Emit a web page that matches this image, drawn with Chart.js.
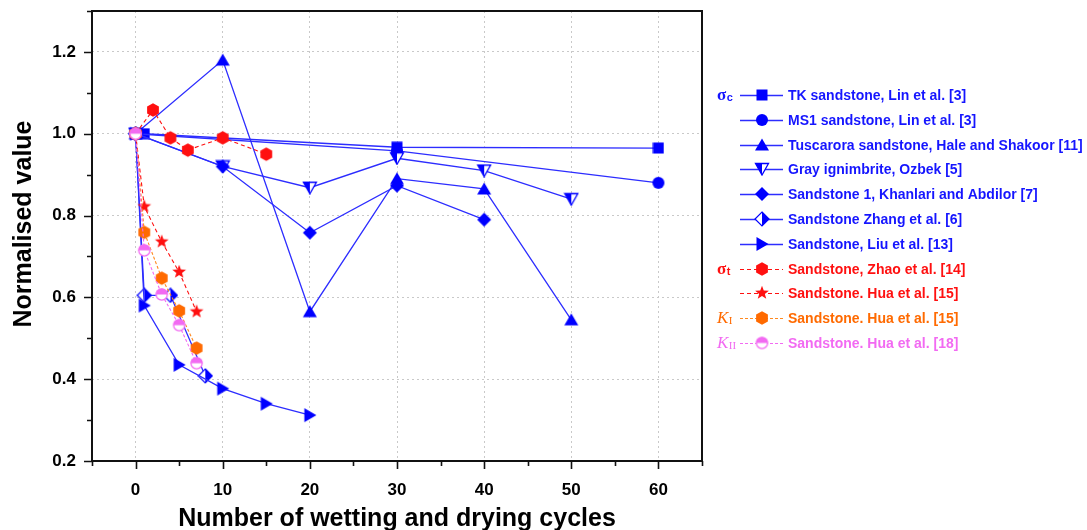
<!DOCTYPE html>
<html>
<head>
<meta charset="utf-8">
<script src="https://cdn.jsdelivr.net/npm/chart.js@4.4.1/dist/chart.umd.min.js"></script>
<style>
  html, body { margin: 0; padding: 0; background: #fff; }
  #wrap { width: 1087px; height: 530px; position: relative; }
</style>
</head>
<body>
<div id="wrap"><canvas id="myChart" width="1087" height="530"></canvas></div>
<script>
// datos (ciclos, valor normalizado)
const tkX = [0, 1, 30, 60];
const tkY = [1.0, 1.0, 0.967, 0.965];
const ms1X = [0, 30, 60];
const ms1Y = [1.0, 0.958, 0.88];
const tusX = [0, 10, 20, 30, 40, 50];
const tusY = [1.0, 1.18, 0.565, 0.89, 0.865, 0.545];
const ignX = [0, 10, 20, 30, 40, 50];
const ignY = [1.0, 0.92, 0.868, 0.94, 0.91, 0.84];
const khaX = [0, 10, 20, 30, 40];
const khaY = [1.0, 0.92, 0.758, 0.873, 0.79];
const zhaX = [0, 1, 4, 8];
const zhaY = [1.0, 0.605, 0.605, 0.408];
const liuX = [0, 1, 5, 10, 15, 20];
const liuY = [1.0, 0.58, 0.435, 0.377, 0.34, 0.312];
const zhaoX = [0, 2, 4, 6, 10, 15];
const zhaoY = [1.0, 1.058, 0.99, 0.96, 0.99, 0.95];
const huaX = [0, 1, 3, 5, 7];
const huaY = [1.0, 0.822, 0.736, 0.662, 0.565];
const k1X = [0, 1, 3, 5, 7];
const k1Y = [1.0, 0.759, 0.647, 0.567, 0.476];
const k2X = [0, 1, 3, 5, 7];
const k2Y = [1.0, 0.715, 0.607, 0.532, 0.439];

const nombres = [
  "TK sandstone, Lin et al. [3]",
  "MS1 sandstone, Lin et al. [3]",
  "Tuscarora sandstone, Hale and Shakoor [11]",
  "Gray ignimbrite, Ozbek [5]",
  "Sandstone 1, Khanlari and Abdilor [7]",
  "Sandstone Zhang et al. [6]",
  "Sandstone, Liu et al. [13]",
  "Sandstone, Zhao et al. [14]",
  "Sandstone. Hua et al. [15]",
  "Sandstone. Hua et al. [15]",
  "Sandstone. Hua et al. [18]"
];

// etiquetas de los ejes
const xTicks = [0, 10, 20, 30, 40, 50, 60];
const yTicks = [0.2, 0.4, 0.6, 0.8, 1.0, 1.2];

const azul = "#0000ff", lineaAzul = "#2d2dff";
const rojo = "#ff1010", naranja = "#ff6a00", rosa = "#f26af2";

// marcadores dibujados en canvas pequenos
function marca(w, h, fn) {
  const c = document.createElement("canvas");
  c.width = w; c.height = h;
  const g = c.getContext("2d");
  g.translate(w / 2, h / 2);
  fn(g);
  return c;
}
function poly(g, pts) {
  g.beginPath();
  pts.forEach((p, i) => i ? g.lineTo(p[0], p[1]) : g.moveTo(p[0], p[1]));
  g.closePath();
}
const mCuadro = marca(12, 12, g => { g.fillStyle = azul; g.fillRect(-5.5, -5.5, 11, 11); });
const mCirculo = marca(14, 14, g => { g.fillStyle = azul; g.beginPath(); g.arc(0, 0, 6, 0, Math.PI * 2); g.fill(); });
const mTriUp = marca(16, 14, g => { g.fillStyle = azul; poly(g, [[0, -6.5], [7, 5.5], [-7, 5.5]]); g.fill(); });
const mTriDown = marca(16, 14, g => {
  g.fillStyle = "#fff"; poly(g, [[-6.5, -5.5], [6.5, -5.5], [0, 6]]); g.fill();
  g.fillStyle = azul; poly(g, [[-6.5, -5.5], [0, -5.5], [0, 6]]); g.fill();
  g.strokeStyle = azul; g.lineWidth = 1.3; poly(g, [[-6.5, -5.5], [6.5, -5.5], [0, 6]]); g.stroke();
});
const mRombo = marca(16, 16, g => { g.fillStyle = azul; poly(g, [[0, -7], [7, 0], [0, 7], [-7, 0]]); g.fill(); });
const mMedioRombo = marca(16, 16, g => {
  g.fillStyle = "#fff"; poly(g, [[0, -7], [7, 0], [0, 7], [-7, 0]]); g.fill();
  g.fillStyle = azul; poly(g, [[0, -7], [7, 0], [0, 7]]); g.fill();
  g.strokeStyle = azul; g.lineWidth = 1.2; poly(g, [[0, -7], [7, 0], [0, 7], [-7, 0]]); g.stroke();
});
const mTriDer = marca(16, 16, g => { g.fillStyle = azul; poly(g, [[-5.5, -7], [6.5, 0], [-5.5, 7]]); g.fill(); });
function hexa(color) {
  return marca(16, 16, g => {
    const pts = [];
    for (let k = 0; k < 6; k++) { const a = Math.PI / 6 + k * Math.PI / 3; pts.push([6.8 * Math.cos(a), 6.8 * Math.sin(a)]); }
    g.fillStyle = color; poly(g, pts); g.fill();
  });
}
const mHexRojo = hexa(rojo);
const mHexNaranja = hexa(naranja);
const mEstrella = marca(16, 16, g => {
  const pts = [];
  for (let k = 0; k < 10; k++) {
    const r = k % 2 ? 3 : 7.2, a = -Math.PI / 2 + k * Math.PI / 5;
    pts.push([r * Math.cos(a), r * Math.sin(a)]);
  }
  g.fillStyle = rojo; poly(g, pts); g.fill();
});
const mMedioCirculo = marca(15, 15, g => {
  g.fillStyle = "#fff"; g.beginPath(); g.arc(0, 0, 6, 0, Math.PI * 2); g.fill();
  g.fillStyle = rosa; g.beginPath(); g.arc(0, 0, 6, Math.PI, Math.PI * 2); g.closePath(); g.fill();
  g.strokeStyle = rosa; g.lineWidth = 1.3; g.beginPath(); g.arc(0, 0, 5.6, 0, Math.PI * 2); g.stroke();
});

const puntos = (xs, ys) => xs.map((x, i) => ({ x: x, y: ys[i] }));

const series = [
  [tkX, tkY, mCuadro, lineaAzul, []],
  [ms1X, ms1Y, mCirculo, lineaAzul, []],
  [tusX, tusY, mTriUp, lineaAzul, []],
  [ignX, ignY, mTriDown, lineaAzul, []],
  [khaX, khaY, mRombo, lineaAzul, []],
  [zhaX, zhaY, mMedioRombo, lineaAzul, []],
  [liuX, liuY, mTriDer, lineaAzul, []],
  [zhaoX, zhaoY, mHexRojo, rojo, [4, 3]],
  [huaX, huaY, mEstrella, rojo, [4, 3]],
  [k1X, k1Y, mHexNaranja, "#ff8a20", [3, 2]],
  [k2X, k2Y, mMedioCirculo, rosa, [3, 2]]
];

const datasets = series.map((s, i) => ({
  label: nombres[i],
  data: puntos(s[0], s[1]),
  pointStyle: s[2],
  borderColor: s[3],
  borderDash: s[4],
  borderWidth: i < 7 ? 1.3 : 1.1,
  tension: 0,
  fill: false,
  order: series.length - i
}));

const colorTexto = ["#1515ff", "#1515ff", "#1515ff", "#1515ff", "#1515ff", "#1515ff", "#1515ff", rojo, rojo, naranja, rosa];

// marco, marcas de los ejes, titulos y leyenda
const decor = {
  id: "decor",
  afterDraw(chart) {
    const { ctx, chartArea: a, scales } = chart;
    ctx.save();
    ctx.strokeStyle = "#111";
    ctx.lineWidth = 2;
    ctx.strokeRect(a.left, a.top, a.right - a.left, a.bottom - a.top);

    ctx.lineWidth = 1.6;
    ctx.beginPath();
    scales.x.ticks.forEach(t => {
      const px = Math.round(scales.x.getPixelForValue(t.value)) + 0.5;
      const len = xTicks.includes(t.value) ? 8 : 5;
      ctx.moveTo(px, a.bottom); ctx.lineTo(px, a.bottom + len);
    });
    scales.y.ticks.forEach(t => {
      const py = Math.round(scales.y.getPixelForValue(t.value)) + 0.5;
      const len = Math.round(t.value * 10) % 2 === 0 ? 8 : 5;
      ctx.moveTo(a.left, py); ctx.lineTo(a.left - len, py);
    });
    ctx.stroke();

    ctx.fillStyle = "#000";
    ctx.font = "bold 25px Arial";
    ctx.textAlign = "center";
    ctx.textBaseline = "alphabetic";
    ctx.fillText("Number of wetting and drying cycles", (a.left + a.right) / 2, 526);
    ctx.save();
    ctx.translate(31, 224);
    ctx.rotate(-Math.PI / 2);
    ctx.fillText("Normalised value", 0, 0);
    ctx.restore();

    // leyenda
    ctx.textAlign = "left";
    ctx.textBaseline = "middle";
    chart.data.datasets.forEach((ds, i) => {
      const y = Math.round(95 + i * 24.8);
      ctx.save();
      ctx.strokeStyle = ds.borderColor;
      ctx.lineWidth = ds.borderWidth;
      ctx.setLineDash(ds.borderDash);
      ctx.beginPath();
      ctx.moveTo(740, y + 0.5); ctx.lineTo(783, y + 0.5);
      ctx.stroke();
      ctx.restore();
      const img = ds.pointStyle;
      ctx.drawImage(img, 762 - img.width / 2, y - img.height / 2);
      ctx.fillStyle = colorTexto[i];
      ctx.font = "bold 14px Arial";
      ctx.fillText(ds.label, 788, y + 1);
    });

    const grupo = (i, base, sub, color, italic) => {
      const y = Math.round(95 + i * 24.8);
      ctx.fillStyle = color;
      ctx.textBaseline = "alphabetic";
      ctx.font = (italic ? "italic " : "bold ") + "17px 'Liberation Serif'";
      ctx.fillText(base, 717, y + 5);
      const w = ctx.measureText(base).width;
      ctx.font = (italic ? "" : "bold ") + "11px " + (italic ? "'Liberation Serif'" : "Arial");
      ctx.fillText(sub, 717 + w + 0.5, y + 6);
    };
    grupo(0, "σ", "c", "#1515ff", false);
    grupo(7, "σ", "t", rojo, false);
    grupo(9, "K", "I", naranja, true);
    grupo(10, "K", "II", rosa, true);
    ctx.restore();
  }
};

const gridColor = "#c9c9c9";

const config = {
  type: "line",
  data: { datasets },
  options: {
    responsive: false,
    animation: false,
    layout: { padding: { top: 11, right: 385, left: 0, bottom: 0 } },
    plugins: { legend: { display: false }, tooltip: { enabled: false } },
    elements: { point: { radius: 6, hoverRadius: 6 } },
    scales: {
      x: {
        type: "linear",
        min: -5,
        max: 65,
        afterFit: s => { s.height = 69; s.paddingLeft = 0; s.paddingRight = 0; },
        grid: {
          drawTicks: false,
          color: c => (c.tick && xTicks.includes(c.tick.value)) ? gridColor : "rgba(0,0,0,0)"
        },
        border: { display: false, dash: [2, 3] },
        ticks: {
          stepSize: 5,
          padding: 19,
          color: "#000",
          font: { family: "Arial", size: 17, weight: "bold" },
          callback: v => xTicks.includes(v) ? String(v) : ""
        }
      },
      y: {
        min: 0.2,
        max: 1.3,
        afterFit: s => { s.width = 92; s.paddingTop = 0; s.paddingBottom = 0; },
        grid: {
          drawTicks: false,
          color: c => (c.tick && yTicks.some(t => Math.abs(t - c.tick.value) < 1e-6)) ? gridColor : "rgba(0,0,0,0)"
        },
        border: { display: false, dash: [2, 3] },
        ticks: {
          stepSize: 0.1,
          padding: 16,
          color: "#000",
          font: { family: "Arial", size: 17, weight: "bold" },
          callback: v => yTicks.some(t => Math.abs(t - v) < 1e-6) ? v.toFixed(1) : ""
        }
      }
    }
  },
  plugins: [decor]
};

const myChart = new Chart(document.getElementById("myChart"), config);
</script>
</body>
</html>
